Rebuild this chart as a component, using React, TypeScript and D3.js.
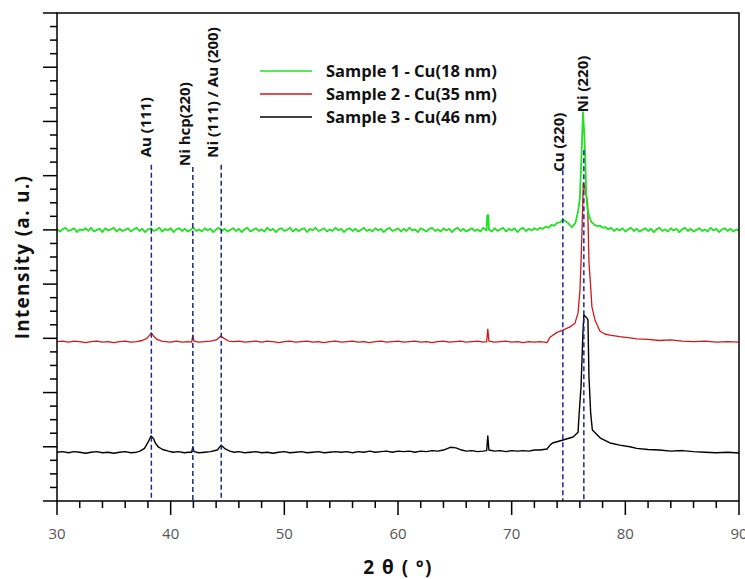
import React from "react";
import * as d3 from "d3";

// 2θ range and y range (arbitrary intensity units, patterns stacked)
const xDomain: [number, number] = [30, 90];
const yDomain: [number, number] = [0, 9];
const xMajorTicks = [30, 40, 50, 60, 70, 80, 90];

const seriesNames = ["Sample 1 - Cu(18 nm)", "Sample 2 - Cu(35 nm)", "Sample 3 - Cu(46 nm)"];
const seriesColors = ["#22e022", "#d01818", "#000000"];

// Sample 1 pattern [2θ, intensity]
const sample1: [number, number][] = [
  [30, 5.02], [30.25, 4.97], [30.5, 5.01], [30.75, 5.04], [31, 4.98], [31.25, 5.0], [31.5, 5.03], [31.75, 4.96],
  [32, 5.01], [32.25, 4.99], [32.5, 5.03], [32.75, 4.98], [33, 5.04], [33.25, 4.97], [33.5, 5.0], [33.75, 5.02],
  [34, 4.96], [34.25, 5.03], [34.5, 4.99], [34.75, 5.01], [35, 5.04], [35.25, 4.97], [35.5, 5.02], [35.75, 4.98],
  [36, 5.0], [36.25, 5.03], [36.5, 4.97], [36.75, 5.01], [37, 5.04], [37.25, 4.98], [37.5, 5.02], [37.75, 4.96],
  [38, 5.01], [38.25, 5.03], [38.5, 4.98], [38.75, 5.0], [39, 5.04], [39.25, 4.97], [39.5, 5.02], [39.75, 4.99],
  [40, 5.03], [40.25, 4.96], [40.5, 5.01], [40.75, 5.03], [41, 4.98], [41.25, 5.02], [41.5, 4.97], [41.75, 5.0],
  [42, 5.04], [42.25, 4.98], [42.5, 5.01], [42.75, 4.97], [43, 5.03], [43.25, 4.99], [43.5, 5.02], [43.75, 4.96],
  [44, 5.01], [44.25, 5.04], [44.5, 4.98], [44.75, 5.02], [45, 4.97], [45.25, 5.0], [45.5, 5.03], [45.75, 4.98],
  [46, 5.02], [46.25, 4.96], [46.5, 5.01], [46.75, 5.04], [47, 4.97], [47.25, 5.0], [47.5, 5.03], [47.75, 4.98],
  [48, 5.01], [48.25, 4.97], [48.5, 5.04], [48.75, 4.99], [49, 5.02], [49.25, 4.96], [49.5, 5.01], [49.75, 5.03],
  [50, 4.98], [50.25, 5.0], [50.5, 5.04], [50.75, 4.97], [51, 5.02], [51.25, 4.98], [51.5, 5.01], [51.75, 5.03],
  [52, 4.96], [52.25, 5.02], [52.5, 4.99], [52.75, 5.04], [53, 4.98], [53.25, 5.0], [53.5, 5.03], [53.75, 4.97],
  [54, 5.01], [54.25, 4.98], [54.5, 5.04], [54.75, 4.99], [55, 5.02], [55.25, 4.96], [55.5, 5.01], [55.75, 5.03],
  [56, 4.98], [56.25, 5.02], [56.5, 4.97], [56.75, 5.0], [57, 5.04], [57.25, 4.98], [57.5, 5.01], [57.75, 4.97],
  [58, 5.03], [58.25, 4.99], [58.5, 5.02], [58.75, 4.96], [59, 5.01], [59.25, 5.04], [59.5, 4.98], [59.75, 5.0],
  [60, 5.03], [60.25, 4.97], [60.5, 5.02], [60.75, 4.98], [61, 5.04], [61.25, 4.99], [61.5, 5.01], [61.75, 4.96],
  [62, 5.03], [62.25, 5.0], [62.5, 4.97], [62.75, 5.02], [63, 5.04], [63.25, 4.98], [63.5, 5.01], [63.75, 4.97],
  [64, 5.03], [64.25, 4.99], [64.5, 5.02], [64.75, 4.96], [65, 5.01], [65.25, 5.04], [65.5, 4.98], [65.75, 5.02],
  [66, 4.97], [66.25, 5.0], [66.5, 5.03], [66.75, 4.98], [67, 5.01], [67.25, 4.97], [67.5, 5.04], [67.75, 4.99],
  [67.8, 5.0], [67.85, 5.27], [67.95, 5.27], [68.0, 5.01], [68.25, 4.97], [68.5, 5.03], [68.75, 4.98], [69, 5.01],
  [69.25, 5.04], [69.5, 4.97], [69.75, 5.02], [70, 4.99], [70.25, 5.03], [70.5, 4.96], [70.75, 5.01], [71, 5.04],
  [71.25, 4.98], [71.5, 5.02], [71.75, 4.99], [72, 5.03], [72.25, 5.0], [72.5, 5.04], [72.75, 5.02], [73, 5.06],
  [73.25, 5.04], [73.5, 5.09], [73.75, 5.08], [74, 5.13], [74.25, 5.14], [74.5, 5.19], [74.75, 5.16], [75, 5.12],
  [75.15, 5.08], [75.3, 5.05], [75.45, 5.09], [75.6, 5.12], [75.85, 5.35], [76.0, 5.58], [76.15, 6.4],
  [76.27, 7.17], [76.38, 6.8], [76.47, 6.35], [76.56, 5.65], [76.66, 5.4], [76.8, 5.27], [77.0, 5.15],
  [77.25, 5.1], [77.5, 5.07], [77.75, 5.08], [78, 5.04], [78.25, 5.05], [78.5, 5.01], [78.75, 5.04], [79, 4.98],
  [79.25, 5.02], [79.5, 4.99], [79.75, 5.03], [80, 4.97], [80.25, 5.01], [80.5, 5.04], [80.75, 4.98], [81, 5.02],
  [81.25, 4.97], [81.5, 5.0], [81.75, 5.03], [82, 4.98], [82.25, 5.02], [82.5, 4.96], [82.75, 5.01], [83, 5.04],
  [83.25, 4.98], [83.5, 5.01], [83.75, 4.97], [84, 5.03], [84.25, 4.99], [84.5, 5.02], [84.75, 4.96], [85, 5.01],
  [85.25, 5.04], [85.5, 4.98], [85.75, 5.02], [86, 4.97], [86.25, 5.0], [86.5, 5.03], [86.75, 4.98], [87, 5.01],
  [87.25, 4.97], [87.5, 5.04], [87.75, 4.99], [88, 5.02], [88.25, 4.96], [88.5, 5.01], [88.75, 5.03], [89, 4.98],
  [89.25, 5.02], [89.5, 4.97], [89.75, 5.01], [90, 4.99],
];

// Sample 2 pattern [2θ, intensity]
const sample2: [number, number][] = [
  [30, 2.94], [30.5, 2.95], [31, 2.93], [31.5, 2.95], [32, 2.94], [32.5, 2.92], [33, 2.94], [33.5, 2.95],
  [34, 2.93], [34.5, 2.94], [35, 2.92], [35.5, 2.94], [36, 2.95], [36.5, 2.93], [37, 2.94], [37.5, 2.96],
  [37.9, 3.0], [38.15, 3.06], [38.3, 3.1], [38.5, 3.04], [38.8, 2.98], [39.2, 2.95], [39.6, 2.94], [40, 2.93],
  [40.5, 2.95], [41, 2.93], [41.5, 2.94], [41.85, 2.93], [41.95, 3.06], [42.05, 2.95], [42.5, 2.93], [43, 2.94],
  [43.5, 2.95], [44, 2.97], [44.4, 3.04], [44.7, 3.0], [45.1, 2.95], [45.5, 2.94], [46, 2.95], [46.5, 2.93],
  [47, 2.94], [47.5, 2.95], [48, 2.93], [48.5, 2.95], [49, 2.94], [49.5, 2.92], [50, 2.94], [50.5, 2.95],
  [51, 2.93], [51.5, 2.94], [52, 2.95], [52.5, 2.93], [53, 2.94], [53.5, 2.92], [54, 2.94], [54.5, 2.95],
  [55, 2.93], [55.5, 2.94], [56, 2.95], [56.5, 2.93], [57, 2.94], [57.5, 2.92], [58, 2.94], [58.5, 2.95],
  [59, 2.93], [59.5, 2.94], [60, 2.95], [60.5, 2.93], [61, 2.94], [61.5, 2.95], [62, 2.93], [62.5, 2.94],
  [63, 2.92], [63.5, 2.94], [64, 2.95], [64.5, 2.93], [65, 2.94], [65.5, 2.95], [66, 2.93], [66.5, 2.94],
  [67, 2.95], [67.5, 2.93], [67.8, 2.94], [67.9, 3.17], [68.0, 2.95], [68.5, 2.93], [69, 2.94], [69.5, 2.95],
  [70, 2.93], [70.5, 2.94], [71, 2.92], [71.5, 2.94], [72, 2.93], [72.5, 2.94], [73.11, 2.92], [73.37, 3.02],
  [73.99, 3.11], [74.52, 3.15], [75.13, 3.21], [75.57, 3.28], [75.84, 3.47], [76.01, 3.89], [76.1, 4.39],
  [76.19, 5.0], [76.3, 5.86], [76.5, 5.72], [76.68, 5.5], [76.8, 4.4], [76.92, 4.05], [77.06, 3.58],
  [77.33, 3.34], [77.77, 3.13], [78.2, 3.08], [78.65, 3.06], [79.5, 3.03], [80.41, 3.01], [81, 2.99],
  [82, 2.98], [83, 2.96], [84, 2.97], [85, 2.95], [86, 2.94], [87, 2.95], [88, 2.93], [89, 2.94], [90, 2.93],
];

// Sample 3 pattern [2θ, intensity]
const sample3: [number, number][] = [
  [30, 0.9], [30.5, 0.91], [31, 0.89], [31.5, 0.91], [32, 0.9], [32.5, 0.88], [33, 0.9], [33.5, 0.91],
  [34, 0.89], [34.5, 0.9], [35, 0.88], [35.5, 0.9], [36, 0.91], [36.5, 0.89], [37, 0.9], [37.3, 0.92],
  [37.7, 0.97], [38.0, 1.08], [38.27, 1.2], [38.5, 1.15], [38.65, 1.07], [38.9, 1.0], [39.3, 0.95], [39.8, 0.92],
  [40.2, 0.9], [40.7, 0.91], [41.2, 0.89], [41.6, 0.9], [41.85, 0.9], [41.95, 1.0], [42.05, 0.91], [42.5, 0.89],
  [43, 0.9], [43.5, 0.91], [44.1, 0.94], [44.45, 1.03], [44.8, 0.96], [45.2, 0.92], [45.6, 0.9], [46, 0.91],
  [46.5, 0.89], [47, 0.9], [47.5, 0.91], [48, 0.89], [48.5, 0.9], [49, 0.88], [49.5, 0.9], [50, 0.91],
  [50.5, 0.89], [51, 0.9], [51.5, 0.91], [52, 0.89], [52.5, 0.9], [53, 0.91], [53.5, 0.89], [54, 0.9],
  [54.5, 0.91], [55, 0.9], [55.5, 0.91], [56, 0.89], [56.5, 0.91], [57, 0.9], [57.5, 0.92], [58, 0.9],
  [58.5, 0.91], [59, 0.92], [59.5, 0.9], [60, 0.92], [60.5, 0.91], [61, 0.92], [61.5, 0.9], [62, 0.92],
  [62.5, 0.91], [63, 0.93], [63.5, 0.92], [64, 0.94], [64.6, 0.99], [65.1, 0.98], [65.6, 0.94], [66, 0.92],
  [66.5, 0.93], [67, 0.91], [67.5, 0.92], [67.8, 0.93], [67.9, 1.2], [68.0, 0.94], [68.5, 0.92], [69, 0.93],
  [69.5, 0.91], [70, 0.93], [70.5, 0.92], [71, 0.93], [71.5, 0.92], [72, 0.94], [72.5, 0.94], [73.11, 0.96],
  [73.37, 1.03], [73.6, 1.07], [74.52, 1.125], [75.4, 1.18], [75.84, 1.27], [75.93, 1.59], [76.1, 2.1],
  [76.27, 3.1], [76.35, 3.43], [76.6, 3.38], [76.71, 3.34], [76.8, 2.29], [76.95, 1.62], [77.1, 1.31],
  [77.8, 1.16], [78.65, 1.07], [79.5, 1.03], [80.4, 1.0], [81, 0.97], [82, 0.95], [83, 0.94], [84, 0.92],
  [85, 0.93], [86, 0.91], [87, 0.9], [88, 0.89], [89, 0.9], [90, 0.885],
];

// Reflection markers: label, 2θ position, top of the dashed guide, bottom of the label
const refLabels = ["Au (111)", "Ni hcp(220)", "Ni (111) / Au (200)", "Cu (220)", "Ni (220)"];
const refPositions = [38.3, 41.95, 44.45, 74.5, 76.35];
const refTops = [6.2, 6.16, 6.2, 6.1, 6.47];
const refLabelBottoms = [6.34, 6.18, 6.33, 6.07, 7.17];

const W = 745;
const H = 579;
const M = { left: 57, right: 739, top: 13, bottom: 501 };

export default function App() {
  const x = d3.scaleLinear().domain(xDomain).range([M.left, M.right]);
  const y = d3.scaleLinear().domain(yDomain).range([M.bottom, M.top]);

  const line = d3
    .line<[number, number]>()
    .x((d) => x(d[0]))
    .y((d) => y(d[1]));

  const xMinor = d3.range(xDomain[0], xDomain[1] + 0.001, 2).filter((v) => v % 10 !== 0);
  const yMajor = d3.range(yDomain[0], yDomain[1] + 0.001, 1);
  const yMinor = d3.range(yDomain[0], yDomain[1], 0.25).filter((v) => v % 1 !== 0);

  // drawing order: Sample 2, Sample 3, Sample 1 on top
  const series = [sample2, sample3, sample1];
  const seriesColorOrder = [seriesColors[1], seriesColors[2], seriesColors[0]];
  const seriesWidths = [1.3, 1.4, 1.8];

  // label nudges relative to the guide line (px)
  const labelDx = [0, -3, -3, 1, 4];

  const font = "'Open Sans', 'Noto Sans', sans-serif";

  return (
    <svg
      width={W}
      height={H}
      viewBox={`0 0 ${W} ${H}`}
      style={{ position: "absolute", left: 0, top: 0, background: "#fff" }}
      fontFamily={font}
    >
      <rect x={0} y={0} width={W} height={H} fill="#fff" />

      {/* diffraction patterns */}
      {series.map((s, i) => (
        <path
          key={i}
          d={line(s) || ""}
          fill="none"
          stroke={seriesColorOrder[i]}
          strokeWidth={seriesWidths[i]}
          strokeLinejoin="round"
        />
      ))}

      {/* reflection guides */}
      {refPositions.map((p, i) => (
        <g key={refLabels[i]}>
          <line
            x1={x(p)}
            x2={x(p)}
            y1={y(refTops[i])}
            y2={M.bottom}
            stroke="#1c2a8c"
            strokeWidth={1.5}
            strokeDasharray="5,3"
          />
          <text
            transform={`translate(${x(p) + labelDx[i]},${y(refLabelBottoms[i])}) rotate(-90)`}
            fontSize={15}
            fontWeight={700}
            fill="#111"
          >
            {refLabels[i]}
          </text>
        </g>
      ))}

      {/* frame */}
      <rect
        x={M.left}
        y={M.top}
        width={M.right - M.left}
        height={M.bottom - M.top}
        fill="none"
        stroke="#000"
        strokeWidth={1.5}
      />

      {/* x ticks */}
      {xMajorTicks.map((t) => (
        <g key={`xM${t}`}>
          <line x1={x(t)} x2={x(t)} y1={M.bottom} y2={M.bottom + 14} stroke="#000" strokeWidth={1.5} />
          <text x={x(t)} y={539} textAnchor="middle" fontSize={15} fill="#555">
            {t}
          </text>
        </g>
      ))}
      {xMinor.map((t) => (
        <line key={`xm${t}`} x1={x(t)} x2={x(t)} y1={M.bottom} y2={M.bottom + 7} stroke="#000" strokeWidth={1.5} />
      ))}

      {/* y ticks */}
      {yMajor.map((t) => (
        <line key={`yM${t}`} x1={M.left - 14} x2={M.left} y1={y(t)} y2={y(t)} stroke="#000" strokeWidth={1.5} />
      ))}
      {yMinor.map((t) => (
        <line key={`ym${t}`} x1={M.left - 7} x2={M.left} y1={y(t)} y2={y(t)} stroke="#000" strokeWidth={1.5} />
      ))}

      {/* axis titles */}
      <text x={398} y={574} textAnchor="middle" fontSize={19} fontWeight={700} letterSpacing={1.5} fill="#111">
        2 θ ( º)
      </text>
      <text
        transform={`translate(29,257) rotate(-90)`}
        textAnchor="middle"
        fontSize={19}
        fontWeight={700}
        letterSpacing={1.3}
        fill="#111"
      >
        Intensity (a. u.)
      </text>

      {/* legend */}
      {seriesNames.map((n, i) => {
        const ly = [71, 94, 117][i];
        return (
          <g key={n}>
            <line x1={260} x2={312} y1={ly} y2={ly} stroke={seriesColors[i]} strokeWidth={1.6} />
            <text x={326} y={ly + 5.5} fontSize={16.5} fontWeight={700} fill="#111">
              {n}
            </text>
          </g>
        );
      })}
    </svg>
  );
}
